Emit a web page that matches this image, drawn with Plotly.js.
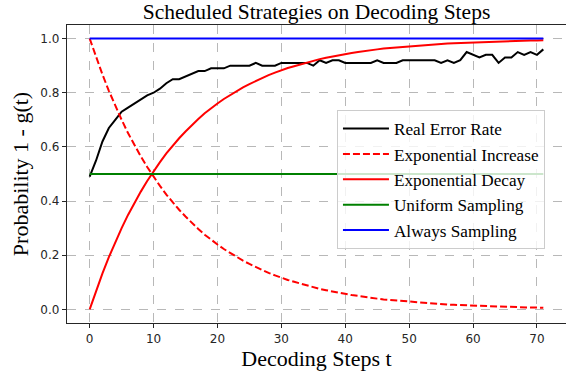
<!DOCTYPE html>
<html>
<head>
<meta charset="utf-8">
<script src="https://cdn.plot.ly/plotly-3.0.1.min.js"></script>
<style>html,body{margin:0;padding:0;background:#fff;}#chart{width:566px;height:376px;}</style>
</head>
<body>
<div id="chart"></div>
<script>
const steps = [0,1,2,3,4,5,6,7,8,9,10,11,12,13,14,15,16,17,18,19,20,21,22,23,24,25,26,27,28,29,30,31,32,33,34,35,36,37,38,39,40,41,42,43,44,45,46,47,48,49,50,51,52,53,54,55,56,57,58,59,60,61,62,63,64,65,66,67,68,69,70,71];
const realErrorRate = [0.49,0.55,0.62,0.67,0.70,0.73,0.745,0.76,0.775,0.79,0.80,0.815,0.835,0.85,0.85,0.86,0.87,0.88,0.88,0.89,0.89,0.89,0.90,0.90,0.90,0.90,0.91,0.90,0.90,0.90,0.91,0.91,0.91,0.91,0.91,0.90,0.92,0.91,0.92,0.92,0.91,0.91,0.91,0.91,0.91,0.92,0.91,0.91,0.91,0.92,0.92,0.92,0.92,0.92,0.92,0.91,0.92,0.91,0.92,0.95,0.94,0.93,0.94,0.94,0.91,0.93,0.93,0.95,0.94,0.95,0.94,0.96];
const expIncrease = [1.000,0.931,0.867,0.807,0.751,0.700,0.651,0.607,0.565,0.526,0.490,0.456,0.424,0.395,0.368,0.343,0.319,0.297,0.276,0.257,0.240,0.223,0.208,0.193,0.180,0.168,0.156,0.145,0.135,0.126,0.117,0.109,0.102,0.095,0.088,0.082,0.076,0.071,0.066,0.062,0.057,0.053,0.050,0.046,0.043,0.040,0.037,0.035,0.032,0.030,0.028,0.026,0.024,0.023,0.021,0.020,0.018,0.017,0.016,0.015,0.014,0.013,0.012,0.011,0.010,0.010,0.009,0.008,0.008,0.007,0.007,0.006];
const expDecay = [0.000,0.069,0.133,0.193,0.249,0.300,0.349,0.393,0.435,0.474,0.510,0.544,0.576,0.605,0.632,0.657,0.681,0.703,0.724,0.743,0.760,0.777,0.792,0.807,0.820,0.832,0.844,0.855,0.865,0.874,0.883,0.891,0.898,0.905,0.912,0.918,0.924,0.929,0.934,0.938,0.943,0.947,0.950,0.954,0.957,0.960,0.963,0.965,0.968,0.970,0.972,0.974,0.976,0.977,0.979,0.980,0.982,0.983,0.984,0.985,0.986,0.987,0.988,0.989,0.990,0.990,0.991,0.992,0.992,0.993,0.993,0.994];
const constSteps = [0,71];
const uniformSampling = [0.5,0.5];
const alwaysSampling = [1.0,1.0];
const seriesNames = ["Real Error Rate","Exponential Increase","Exponential Decay","Uniform Sampling","Always Sampling"];
const yTicks = [0,0.2,0.4,0.6,0.8,1.0];
const xTicks = [0,10,20,30,40,50,60,70];

const serif = "Liberation Serif, Times New Roman, serif";
const sans = "DejaVu Sans, sans-serif";

const traces = [
  {x: steps, y: realErrorRate, name: seriesNames[0], line:{color:'#000000', width:2}},
  {x: steps, y: expIncrease, name: seriesNames[1], line:{color:'#ff0000', width:2, dash:'7px,3px'}},
  {x: steps, y: expDecay, name: seriesNames[2], line:{color:'#ff0000', width:2}},
  {x: constSteps, y: uniformSampling, name: seriesNames[3], line:{color:'#008000', width:2}},
  {x: constSteps, y: alwaysSampling, name: seriesNames[4], line:{color:'#0000ff', width:2}}
].map((t,i)=>Object.assign(t,{type:'scatter', mode:'lines', legendgroup:'g'+i}));

const axisCommon = {
  showline:true, linecolor:'#262626', linewidth:1.2, mirror:true,
  ticks:'outside', ticklen:4, tickwidth:1, tickcolor:'#262626',
  showgrid:true, gridcolor:'#b8b8b8', griddash:'dash', gridwidth:1,
  zeroline:false, tickfont:{family:sans, size:12, color:'#262626'}
};

const layout = {
  width:566, height:376,
  margin:{l:67, r:0, t:25, b:53},
  paper_bgcolor:'#ffffff', plot_bgcolor:'#ffffff',
  title:{text:'Scheduled Strategies on Decoding Steps', font:{family:serif, size:21.5, color:'#000'}, x:0.5, xref:'paper', y:1, yref:'paper', yanchor:'bottom', pad:{b:6}},
  xaxis: Object.assign({}, axisCommon, {range:[-3.55,74.55], tickvals:xTicks, title:{text:'Decoding Steps t', font:{family:serif, size:22, color:'#000'}, standoff:3}}),
  yaxis: Object.assign({}, axisCommon, {range:[-0.05,1.05], tickvals:yTicks, tickformat:'.1f', title:{text:'Probability 1 - g(t)', font:{family:serif, size:22, color:'#000'}, standoff:5}}),
  showlegend:true,
  legend:{x:0.541, y:0.715, xanchor:'left', yanchor:'top', bgcolor:'rgba(255,255,255,0.8)', bordercolor:'#cccccc', borderwidth:1,
    font:{family:serif, size:17.2, color:'#000'}, traceorder:'normal', tracegroupgap:0, itemwidth:46}
};

Plotly.newPlot('chart', traces, layout, {displayModeBar:false, staticPlot:true});
</script>
</body>
</html>
